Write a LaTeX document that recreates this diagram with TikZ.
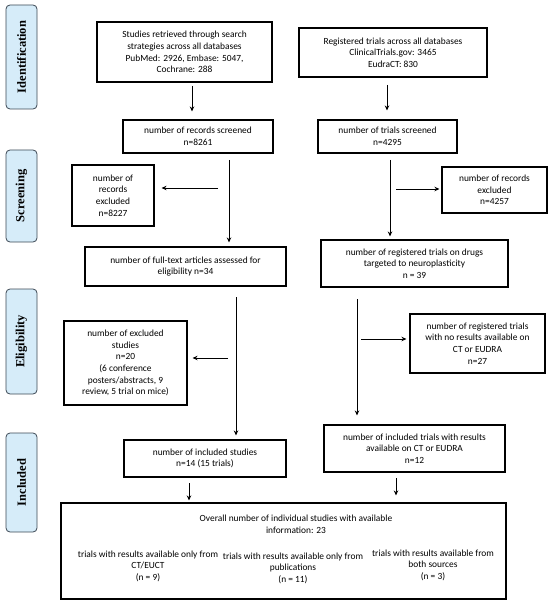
\documentclass[tikz,border=0pt]{standalone}
\usepackage{fontspec}
\setmainfont{Carlito}
\newfontfamily\sidefont{Liberation Serif}
\usetikzlibrary{arrows.meta}
\definecolor{sideblue}{RGB}{214,236,249}
\definecolor{sideline}{RGB}{60,72,84}
\tikzset{
  box/.style={draw, line width=1.1pt, align=center, inner sep=1pt,
    font=\fontsize{9.4}{11.6}\selectfont},
  txt/.style={align=center, inner sep=0pt, font=\fontsize{9.4}{11.6}\selectfont},
  side/.style={draw=sideline, fill=sideblue, line width=0.8pt, rounded corners=4pt,
    minimum width=31pt, inner sep=0pt},
  sidetxt/.style={rotate=90, font=\sidefont\bfseries\fontsize{12.5}{14}\selectfont},
  arr/.style={-{Stealth[length=5pt,width=4.5pt]}, line width=0.9pt},
}
\begin{document}
\begin{tikzpicture}[x=1pt,y=-1pt]
\useasboundingbox (0,0) rectangle (550,604);
% side labels
\node[side, minimum height=104pt] (sid) at (21.5,57) {};
\node[sidetxt] (sidt) at (sid.center) {Identification};
\node[side, minimum height=92pt] (sscr) at (21.5,196) {};
\node[sidetxt] (sscrt) at (sscr.center) {Screening};
\node[side, minimum height=105pt] (selig) at (21.5,341.5) {};
\node[sidetxt] (seligt) at (selig.center) {Eligibility};
\node[side, minimum height=99pt] (sinc) at (21.5,482.5) {};
\node[sidetxt] (sinct) at (sinc.center) {Included};
% boxes
\node[box, minimum width=175pt, minimum height=60pt] (b1) at (184.5,52) {Studies retrieved through search\\strategies across all databases\\PubMed: 2926, Embase: 5047,\\Cochrane: 288};
\node[box, minimum width=188pt, minimum height=49pt] (b2) at (393,52.5) {Registered trials across all databases\\ClinicalTrials.gov: 3465\\EudraCT: 830};
\node[box, minimum width=150pt, minimum height=33pt] (b3) at (198,136.5) {number of records screened\\n=8261};
\node[box, minimum width=139pt, minimum height=33pt] (b4) at (387.5,136.5) {number of trials screened\\n=4295};
\node[box, minimum width=82pt, minimum height=61pt] (b5) at (113,195.5) {number of\\records\\excluded\\n=8227};
\node[box, minimum width=105pt, minimum height=46pt] (b6) at (494.5,190) {number of records\\excluded\\n=4257};
\node[box, minimum width=201pt, minimum height=39pt] (b7) at (185.5,266.5) {number of full-text articles assessed for\\eligibility n=34};
\node[box, minimum width=187pt, minimum height=47pt] (b8) at (414.5,263.5) {number of registered trials on drugs\\targeted to neuroplasticity\\n = 39};
\node[box, minimum width=123pt, minimum height=84pt] (b9) at (125.5,363) {number of excluded\\studies\\n=20\\(6 conference\\posters/abstracts, 9\\review, 5 trial on mice)};
\node[box, minimum width=135pt, minimum height=59pt] (b10) at (477.5,343.5) {number of registered trials\\with no results available on\\CT or EUDRA\\n=27};
\node[box, minimum width=162pt, minimum height=37pt] (b11) at (205,458.5) {number of included studies\\n=14 (15 trials)};
\node[box, minimum width=181pt, minimum height=47pt] (b12) at (414.5,448.5) {number of included trials with results\\available on CT or EUDRA\\n=12};
\node[box, minimum width=445pt, minimum height=96pt] (b13) at (283.5,551) {};
\node[txt] (t0) at (296,524) {Overall number of individual studies with available\\information: 23};
\node[txt] (t1) at (148,566) {trials with results available only from\\CT/EUCT\\(n = 9)};
\node[txt] (t2) at (293,568) {trials with results available only from\\publications\\(n = 11)};
\node[txt] (t3) at (433,565) {trials with results available from\\both sources\\(n = 3)};
% connectors
\coordinate (a1) at (192,86);
\draw[arr, shorten >=8pt] (a1) -- (a1 |- b3.north);
\coordinate (a2) at (387,85);
\draw[arr, shorten >=9pt] (a2) -- (a2 |- b4.north);
\coordinate (a3) at (229,160);
\draw[arr, shorten >=4pt] (a3) -- (a3 |- b7.north);
\coordinate (e1) at (218,188);
\draw[arr, shorten >=7pt] (e1) -- (e1 -| b5.east);
\coordinate (a4) at (390,160);
\draw[arr, shorten >=3pt] (a4) -- (a4 |- b8.north);
\coordinate (e2) at (396,189);
\draw[arr, shorten >=2pt] (e2) -- (e2 -| b6.west);
\coordinate (a5) at (236,297);
\draw[arr, shorten >=4pt] (a5) -- (a5 |- b11.north);
\coordinate (e3) at (228,358);
\draw[arr, shorten >=5pt] (e3) -- (e3 -| b9.east);
\coordinate (a6) at (357,299);
\draw[arr, shorten >=9pt] (a6) -- (a6 |- b12.north);
\coordinate (e4) at (361,339);
\draw[arr, shorten >=3pt] (e4) -- (e4 -| b10.west);
\coordinate (a7) at (189,483);
\draw[arr, shorten >=2pt] (a7) -- (a7 |- b13.north);
\coordinate (a8) at (396,478);
\draw[arr, shorten >=7pt] (a8) -- (a8 |- b13.north);
\end{tikzpicture}
\end{document}
